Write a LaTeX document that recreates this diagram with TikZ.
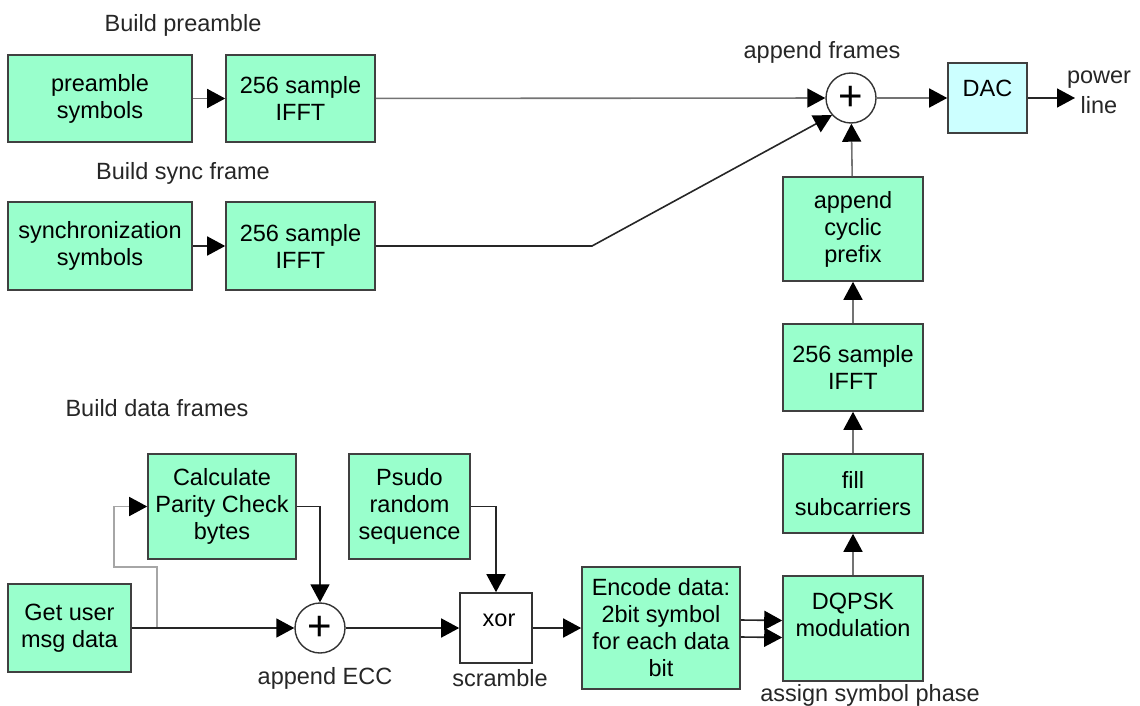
\documentclass[tikz,border=0pt]{standalone}
\usepackage{fontspec}
\setmainfont{Liberation Sans}
\usetikzlibrary{arrows.meta}
\begin{document}
\begin{tikzpicture}[x=1pt,y=-1pt,
  font=\fontsize{23.5}{27}\selectfont,
  box/.style={draw=black!75, line width=1.6pt, fill=boxgreen, align=center, inner sep=0pt},
  dacbox/.style={box, fill=daccyan},
  sum/.style={circle, draw=black!80, line width=1.4pt, fill=white, minimum size=50pt, inner sep=0pt,
    font=\fontsize{42}{42}\selectfont},
  plainbox/.style={draw=black!80, line width=1.6pt, fill=white, inner sep=0pt},
  lbl/.style={inner sep=0pt, text=black!85},
  flow/.style={draw=black!85, line width=1.6pt, -{Triangle[length=18pt,width=19pt,color=black]}},
  gflow/.style={flow, draw=black!55},
  fback/.style={flow, draw=black!35},
]
\definecolor{boxgreen}{HTML}{99FFCC}
\definecolor{daccyan}{HTML}{CCFFFF}
\useasboundingbox (0,0) rectangle (1140,706);

% labels
\node[lbl] (lpre) at (183,25) {Build preamble};
\node[lbl] (lsync) at (183,173) {Build sync frame};
\node[lbl] (ldata) at (157,408) {Build data frames};
\node[lbl] (lfr) at (822,52) {append frames};
\node[lbl] (lecc) at (325,678) {append ECC};
\node[lbl] (lscr) at (500,678) {scramble};
\node[lbl] (lasp) at (870,695) {assign symbol phase};

% top rows
\node[box, minimum width=184pt, minimum height=87pt] (pre) at (100,98.5) {preamble\\symbols};
\node[box, minimum width=149pt, minimum height=87pt] (ifa) at (300.5,98.5) {256 sample\\IFFT};
\node[box, minimum width=184pt, minimum height=88pt] (syn) at (100,246) {synchronization\\symbols};
\node[box, minimum width=149pt, minimum height=88pt] (ifb) at (300.5,246) {256 sample\\IFFT};

\node[sum] (pa) at (851,98) {+};
\node[dacbox, minimum width=79pt, minimum height=70pt, text depth=20pt] (dac) at (987.5,98) {DAC};
\node[lbl] (pwr) at (1099,92) [align=center, font=\fontsize{23.5}{30}\selectfont] {power\\line};
\coordinate (pend) at (1075,98);

% right column
\node[box, minimum width=140pt, minimum height=104pt] (cyc) at (853,229) {append\\cyclic\\prefix};
\node[box, minimum width=140pt, minimum height=87pt] (ifc) at (853,367.5) {256 sample\\IFFT};
\node[box, minimum width=140pt, minimum height=79pt] (fil) at (853,493.5) {fill\\subcarriers};
\node[box, minimum width=140pt, minimum height=105pt, text depth=28pt] (dq) at (853,628.5) {DQPSK\\modulation};

% data row
\node[box, minimum width=123pt, minimum height=88pt] (get) at (69.5,628) {Get user\\msg data};
\node[box, minimum width=148pt, minimum height=105pt] (cal) at (222,506.5) {Calculate\\Parity Check\\bytes};
\node[box, minimum width=121pt, minimum height=105pt] (psu) at (409.5,506.5) {Psudo\\random\\sequence};
\node[sum] (pb) at (320,628) {+};
\node[plainbox, minimum width=72pt, minimum height=70pt, text depth=16pt] (xor) at (496,628) {\hspace*{6pt}xor};
\node[box, minimum width=158pt, minimum height=122pt] (enc) at (661,628) {Encode data:\\2bit symbol\\for each data\\bit};

% connectors top
\draw[gflow] (pre) -- (ifa);
\draw[gflow] (ifa) -- (pa);
\draw[flow] (syn) -- (ifb);
\coordinate (bend) at (592,246);
\draw[flow] (ifb) -- (bend) -- (pa.222);
\draw[gflow] (pa) -- (dac);
\draw[flow] (dac) -- (pend);

% right column
\draw[gflow] (cyc) -- (pa);
\draw[gflow] (ifc) -- (cyc);
\draw[gflow] (fil) -- (ifc);
\draw[gflow] (dq) -- (fil);

% data path
\coordinate (fb) at (157,628);
\coordinate (fb1) at (157,567);
\coordinate (fb2) at (114,567);
\draw[fback] (fb) -- (fb1) -- (fb2) |- (cal.west);
\draw[flow] (get.east) -- (pb);
\draw[flow] (cal.east) -| (pb.north);
\draw[flow] (pb) -- (xor);
\draw[flow] (psu.east) -| (xor.north);
\draw[flow] (xor) -- (enc);
\draw[flow] ([yshift=8pt]enc.east) -- ([yshift=8pt]dq.west);
\draw[flow] ([yshift=-9pt]enc.east) -- ([yshift=-9pt]dq.west);
\end{tikzpicture}
\end{document}
